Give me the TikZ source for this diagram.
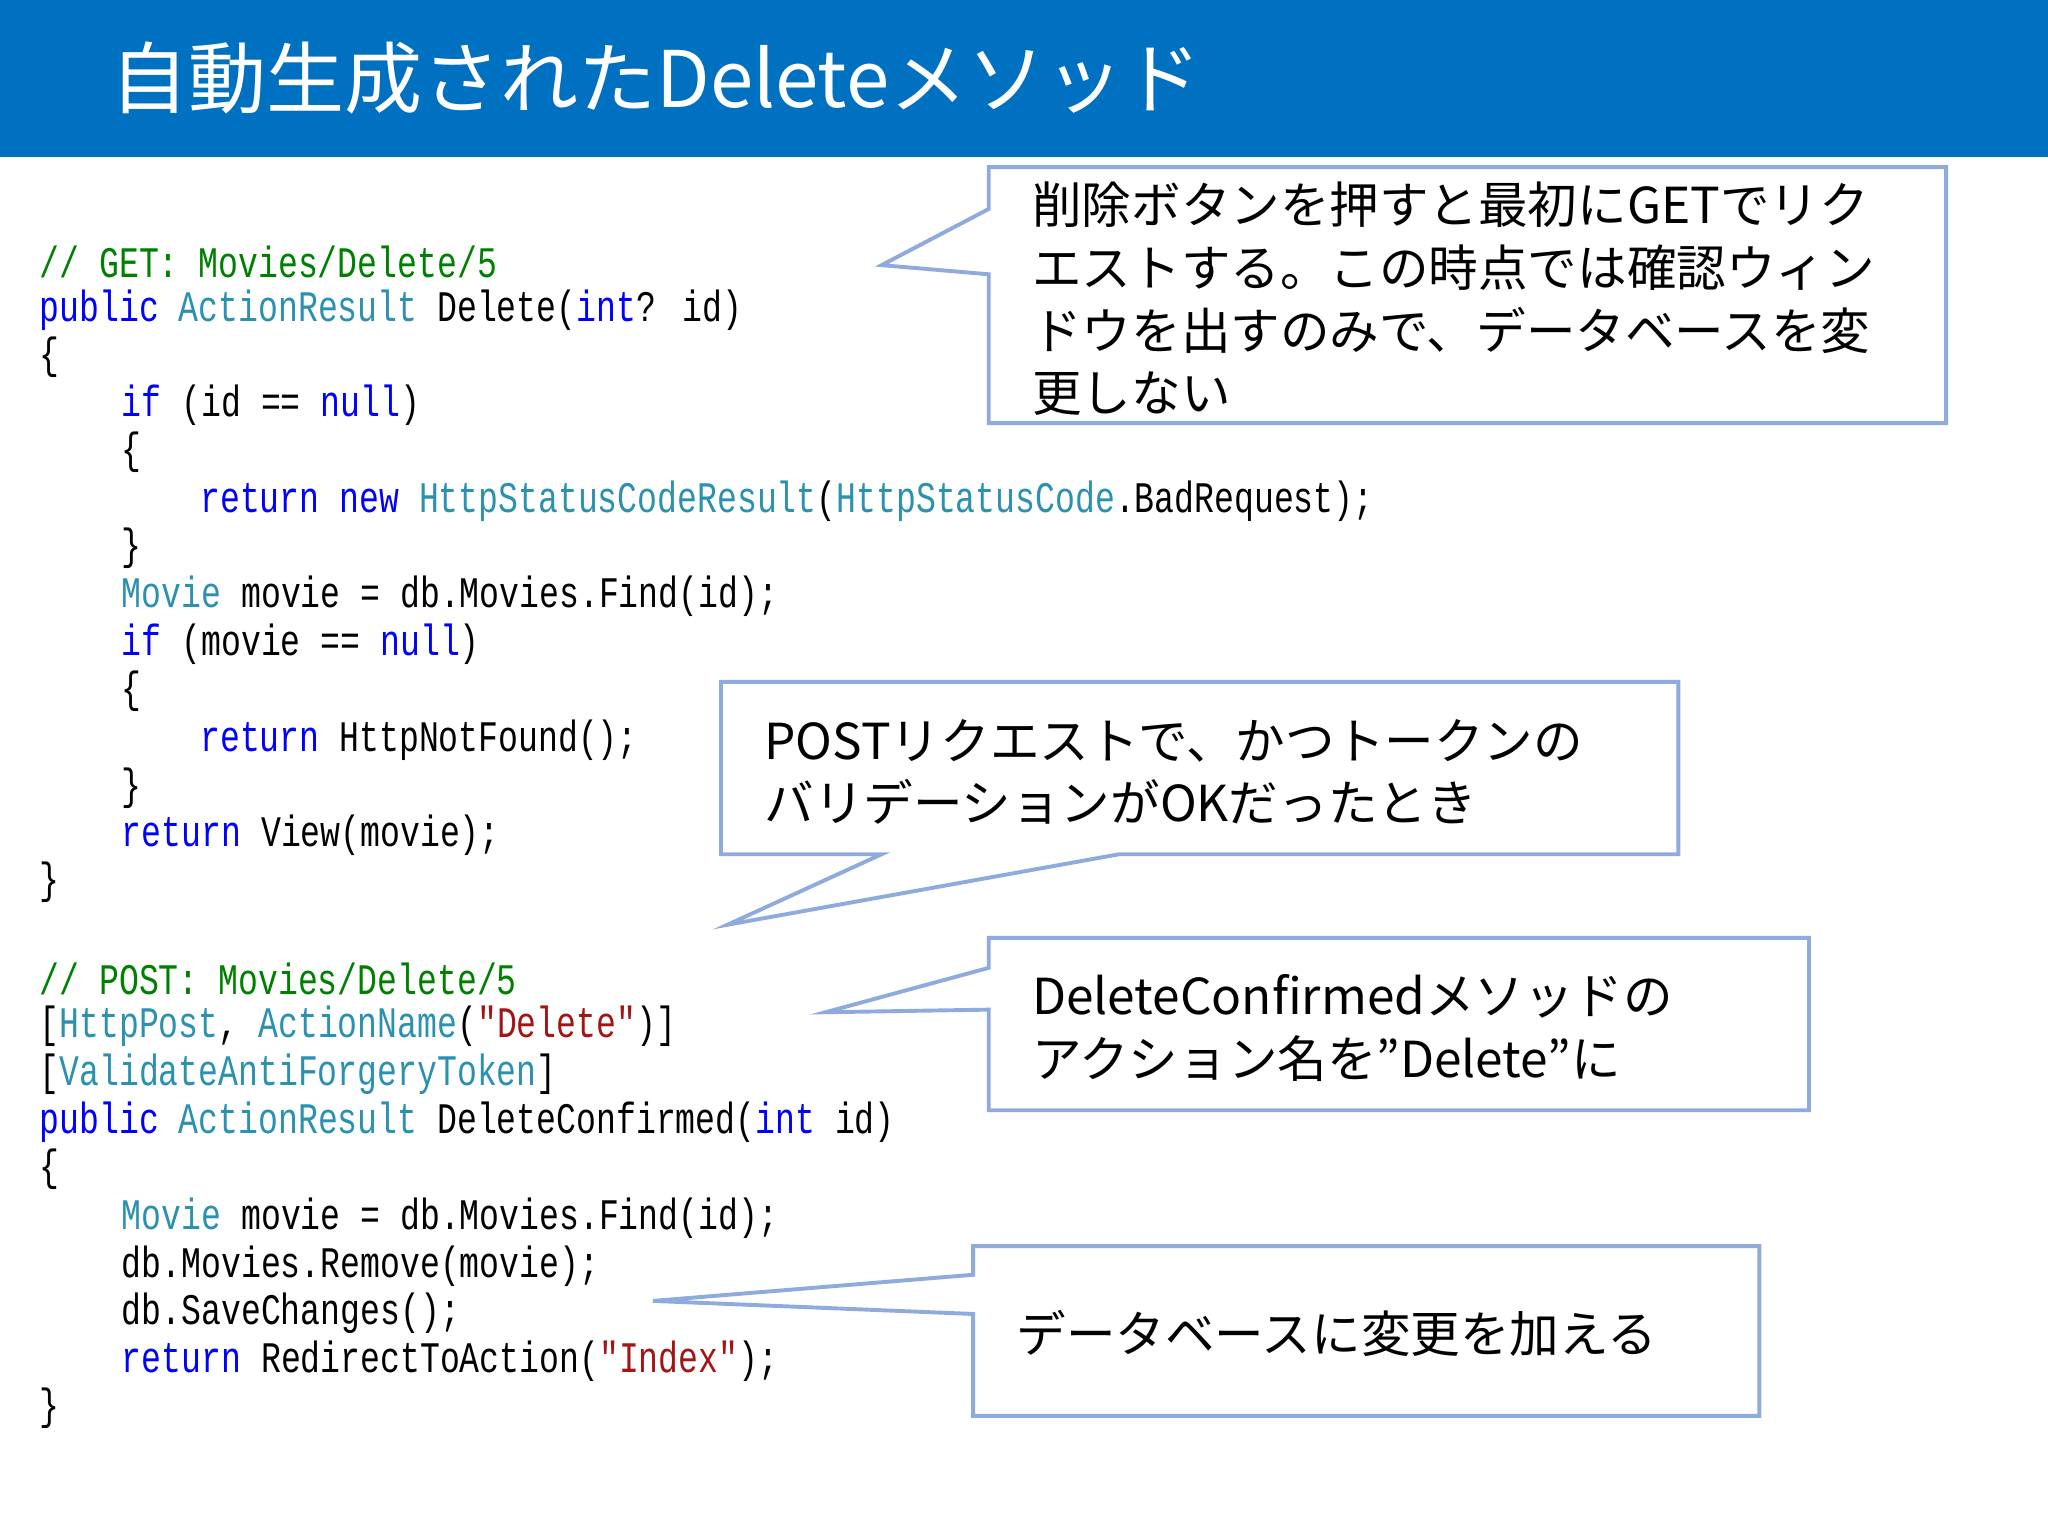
\documentclass[tikz,border=0pt]{standalone}
\usepackage{fontspec}
\setmainfont{Noto Sans CJK JP}
\newfontfamily\jp{Noto Sans CJK JP}
\newfontfamily\codefont[FakeStretch=0.76]{Liberation Mono}
\definecolor{hdr}{HTML}{0070C0}
\definecolor{kw}{HTML}{0000FF}
\definecolor{ty}{HTML}{2B91AF}
\definecolor{cm}{HTML}{008000}
\definecolor{st}{HTML}{A31515}
\definecolor{bd}{HTML}{8FAADC}
\begin{document}
\begin{tikzpicture}[x=0.02cm,y=-0.02cm,
 code/.style={anchor=west,inner sep=0,font=\codefont\fontsize{19pt}{19pt}\selectfont},
 note/.style={anchor=west,inner sep=0,align=left,font=\jp\fontsize{21.6pt}{27.3pt}\selectfont},
 bubble/.style={draw=bd,line width=1.7pt,fill=white,line join=miter}]
\useasboundingbox (0,0) rectangle (1568,1176);
\fill[white] (0,0) rectangle (1568,1176);
\fill[hdr] (0,0) rectangle (1568,120);
\node[anchor=west,inner sep=0,text=white,font=\jp\fontsize{34pt}{34pt}\selectfont] (title) at (84,60) {自動生成されたDeleteメソッド};
\begin{scope}[yshift=-0.07cm]
\node[code] (l1) at (30,197) {\color{cm}// GET: Movies/Delete/5};
\node[code] (l2) at (30,234) {\color{kw}public \color{ty}ActionResult \color{black}Delete(\color{kw}int\color{black}? id)};
\node[code] (l3) at (30,270) {\{};
\node[code] (l4) at (93,307) {\color{kw}if \color{black}(id == \color{kw}null\color{black})};
\node[code] (l5) at (93,343) {\{};
\node[code] (l6) at (153,380) {\color{kw}return new \color{ty}HttpStatusCodeResult\color{black}(\color{ty}HttpStatusCode\color{black}.BadRequest);};
\node[code] (l7) at (93,416) {\}};
\node[code] (l8) at (93,453) {\color{ty}Movie \color{black}movie = db.Movies.Find(id);};
\node[code] (l9) at (93,490) {\color{kw}if \color{black}(movie == \color{kw}null\color{black})};
\node[code] (l10) at (93,526) {\{};
\node[code] (l11) at (153,563) {\color{kw}return \color{black}HttpNotFound();};
\node[code] (l12) at (93,600) {\}};
\node[code] (l13) at (93,636) {\color{kw}return \color{black}View(movie);};
\node[code] (l14) at (30,672) {\}};
\node[code] (m1) at (30,746) {\color{cm}// POST: Movies/Delete/5};
\node[code] (m2) at (30,782) {[\color{ty}HttpPost\color{black}, \color{ty}ActionName\color{black}(\color{st}"Delete"\color{black})]};
\node[code] (m3) at (30,819) {[\color{ty}ValidateAntiForgeryToken\color{black}]};
\node[code] (m4) at (30,856) {\color{kw}public \color{ty}ActionResult \color{black}DeleteConfirmed(\color{kw}int \color{black}id)};
\node[code] (m5) at (30,892) {\{};
\node[code] (m6) at (93,929) {\color{ty}Movie \color{black}movie = db.Movies.Find(id);};
\node[code] (m7) at (93,966) {db.Movies.Remove(movie);};
\node[code] (m8) at (93,1002) {db.SaveChanges();};
\node[code] (m9) at (93,1039) {\color{kw}return \color{black}RedirectToAction(\color{st}"Index"\color{black});};
\node[code] (m10) at (30,1075) {\}};
\end{scope}
\draw[bubble] (757,128) -- (1490,128) -- (1490,324) -- (757,324) -- (757,210) -- (675,203) -- (757,160) -- cycle;
\node[note] (n1) at (790,229) {削除ボタンを押すと最初にGETでリク\\エストする。この時点では確認ウィン\\ドウを出すのみで、データベースを変\\更しない};
\draw[bubble] (552,522) -- (1285,522) -- (1285,654) -- (857,654) -- (557,708) -- (675,654) -- (552,654) -- cycle;
\node[note] (n2) at (585,591) {POSTリクエストで、かつトークンの\\バリデーションがOKだったとき};
\draw[bubble] (757,718) -- (1385,718) -- (1385,850) -- (757,850) -- (757,773) -- (632,775) -- (757,741) -- cycle;
\node[note] (n3) at (790,787) {DeleteConfirmedメソッドの\\アクション名を”Delete”に};
\draw[bubble] (745,954) -- (1347,954) -- (1347,1084) -- (745,1084) -- (745,1006) -- (500,996) -- (745,976) -- cycle;
\node[note] (n4) at (778,1021) {データベースに変更を加える};
\end{tikzpicture}
\end{document}
